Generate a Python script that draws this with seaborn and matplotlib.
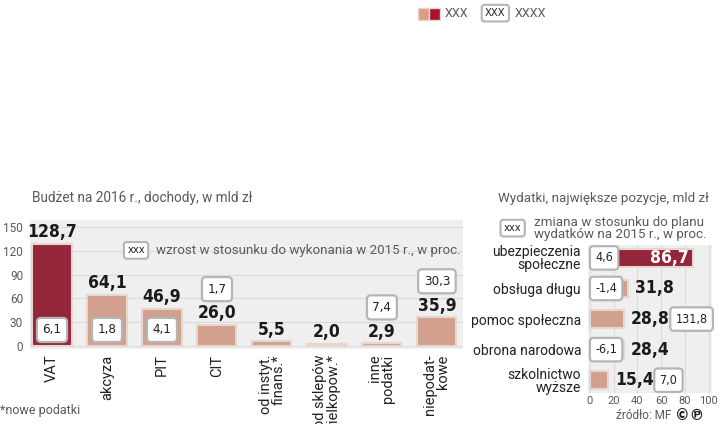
import matplotlib
matplotlib.use("Agg")
import matplotlib.pyplot as plt
import seaborn as sns
import pandas as pd
from matplotlib.patches import Rectangle

# dane - dochody
doch_kat = ["VAT", "akcyza", "PIT", "CIT", "od instyt.\nfinans.*", "od sklepów\nwielkopow.*",
            "inne\npodatki", "niepodat-\nkowe"]
doch_mld = [128.7, 64.1, 46.9, 26.0, 5.5, 2.0, 2.9, 35.9]
doch_wzrost = ["6,1", "1,8", "4,1", "1,7", None, None, "7,4", "30,3"]
doch_box_w_slupku = [True, True, True, False, False, False, False, False]
doch_y_ticks = [0, 30, 60, 90, 120, 150]

# dane - wydatki
wyd_kat = ["ubezpieczenia\nspołeczne", "obsługa długu", "pomoc społeczna", "obrona narodowa",
           "szkolnictwo\nwyższe"]
wyd_mld = [86.7, 31.8, 28.8, 28.4, 15.4]
wyd_zmiana = ["4,6", "-1,4", "131,8", "-6,1", "7,0"]
wyd_box_w_slupku = [True, True, False, True, False]
wyd_x_ticks = [0, 20, 40, 60, 80, 100]

RED = "#a8122e"
SALMON = "#dc9b83"
BG = "#efefef"
GRAY = "#5a5a5a"
DARK = "#222222"

sns.set_style("white")
plt.rcParams["font.family"] = ["Roboto", "DejaVu Sans"]
# waski font do liczb
COND = dict(family="DejaVu Sans", fontstretch="condensed")

fig = plt.figure(figsize=(7.2, 4.24), dpi=100)

def fmt(v):
    return f"{v:.1f}".replace(".", ",")

box_style = dict(boxstyle="round,pad=0.42,rounding_size=0.3", fc="white", ec="#b5b5b5", lw=1.6)
box_small = dict(boxstyle="round,pad=0.3,rounding_size=0.25", fc="white", ec="#b5b5b5", lw=1.5)

# ---- lewy wykres: dochody
ax1 = fig.add_axes([0.0417, 0.177, 0.601, 0.304])
ax1.set_facecolor(BG)
df1 = pd.DataFrame({"kat": doch_kat, "mld": doch_mld})
pal1 = [RED] + [SALMON] * (len(doch_kat) - 1)
sns.barplot(data=df1, x="kat", y="mld", hue="kat", palette=pal1, legend=False, width=0.71,
            edgecolor="#e6d6d0", linewidth=1.5, ax=ax1, zorder=3)
ax1.set_xlim(-0.4, 7.47)
ax1.set_ylim(-4, 159)
ax1.set_yticks(doch_y_ticks)
ax1.set_yticklabels([str(t) for t in doch_y_ticks], color=GRAY, fontsize=8.5)
ax1.yaxis.grid(True, color="#dcdcdc", lw=0.8, zorder=0)
ax1.set_xlabel("")
ax1.set_ylabel("")
ax1.tick_params(length=0, pad=4)
ax1.tick_params(axis="y", pad=5)
ax1.set_xticks(range(len(doch_kat)))
ax1.set_xticklabels(doch_kat, rotation=90, fontsize=10.5, color=DARK, linespacing=0.9)
for lab in ax1.get_xticklabels():
    lab.set_multialignment("right")
for s in ax1.spines.values():
    s.set_visible(False)

for i, (v, w, inside) in enumerate(zip(doch_mld, doch_wzrost, doch_box_w_slupku)):
    ax1.annotate(fmt(v), (i, v), xytext=(0, 2), textcoords="offset points", ha="center",
                 va="bottom", fontsize=12.5, fontweight="bold", color="#1a1a1a", zorder=5, **COND)
    if w is None:
        continue
    if inside:
        ax1.text(i, 20, w, ha="center", va="center", fontsize=9.5, color=DARK,
                 bbox=box_style, zorder=6, **COND)
    else:
        ax1.annotate(w, (i, v), xytext=(0, 26), textcoords="offset points", ha="center",
                     va="center", fontsize=9.5, color=DARK, bbox=box_style, zorder=6, **COND)

ax1.text(0.245, 0.765, "xxx", transform=ax1.transAxes, ha="center", va="center", fontsize=8,
         color=DARK, bbox=box_small, zorder=6, **COND)
ax1.text(0.29, 0.765, "wzrost w stosunku do wykonania w 2015 r., w proc.", transform=ax1.transAxes,
         ha="left", va="center", fontsize=9.6, color=GRAY, zorder=6)

# ---- prawy wykres: wydatki
ax2 = fig.add_axes([0.8167, 0.073, 0.172, 0.349])
ax2.set_facecolor(BG)
df2 = pd.DataFrame({"kat": wyd_kat, "mld": wyd_mld})
pal2 = [RED] + [SALMON] * (len(wyd_kat) - 1)
sns.barplot(data=df2, y="kat", x="mld", hue="kat", palette=pal2, legend=False, width=0.58,
            orient="h", edgecolor="#e6d6d0", linewidth=1.5, ax=ax2, zorder=3)
ax2.set_xlim(-1.5, 102.5)
ax2.set_ylim(4.42, -0.42)
ax2.set_xticks(wyd_x_ticks)
ax2.set_xticklabels([str(t) for t in wyd_x_ticks], color=GRAY, fontsize=8)
ax2.xaxis.grid(True, color="#dcdcdc", lw=0.8, zorder=0)
ax2.set_xlabel("")
ax2.set_ylabel("")
ax2.tick_params(axis="x", length=0, pad=2)
ax2.tick_params(axis="y", length=0, pad=5)
ax2.set_yticks(range(len(wyd_kat)))
ax2.set_yticklabels(wyd_kat, fontsize=10, color=DARK, linespacing=0.9)
for s in ax2.spines.values():
    s.set_visible(False)

for i, (v, z, inside) in enumerate(zip(wyd_mld, wyd_zmiana, wyd_box_w_slupku)):
    if inside:
        ax2.text(4.5, i, z, ha="left", va="center", fontsize=9, color=DARK,
                 bbox=box_style, zorder=6, **COND)
    if i == 0:
        ax2.annotate(fmt(v), (v, i), xytext=(-3, 0), textcoords="offset points", ha="right",
                     va="center", fontsize=12.5, fontweight="bold", color="white", zorder=5, **COND)
    else:
        ax2.annotate(fmt(v), (v, i), xytext=(5, 0), textcoords="offset points", ha="left",
                     va="center", fontsize=12.5, fontweight="bold", color="#1a1a1a", zorder=5, **COND)
    if not inside:
        ax2.annotate(z, (v, i), xytext=(37, 0), textcoords="offset points", ha="left",
                     va="center", fontsize=9, color=DARK, bbox=box_style, zorder=6, **COND)

# ---- tytuły i opisy
fig.text(0.044, 0.533, "Budżet na 2016 r., dochody, w mld zł", fontsize=9.8, color=GRAY,
         va="center")
fig.text(0.985, 0.533, "Wydatki, największe pozycje, mld zł", fontsize=9.6, color=GRAY,
         va="center", ha="right")
fig.text(0.712, 0.462, "xxx", fontsize=8, color=DARK, ha="center", va="center",
         bbox=box_small, **COND)
fig.text(0.741, 0.462, "zmiana w stosunku do planu\nwydatków na 2015 r., w proc.", fontsize=9.6,
         color=GRAY, ha="left", va="center", linespacing=0.9)
fig.text(0.0, 0.031, "*nowe podatki", fontsize=9, color=GRAY, va="center")
fig.text(0.933, 0.02, "źródło: MF", fontsize=8.5, color=GRAY, va="center", ha="right")
fig.text(0.937, 0.02, "©℗", fontsize=10.5, fontweight="bold", family="DejaVu Sans",
         color=DARK, va="center", ha="left")

# ---- legenda u góry
fig.patches.append(Rectangle((0.581, 0.953), 0.015, 0.028, transform=fig.transFigure,
                             fc=SALMON, ec="#e6d6d0", lw=1))
fig.patches.append(Rectangle((0.596, 0.953), 0.015, 0.028, transform=fig.transFigure,
                             fc=RED, ec="#e6d6d0", lw=1))
fig.text(0.617, 0.967, "XXX", fontsize=9, color=GRAY, va="center")
fig.text(0.688, 0.969, "XXX", fontsize=8, color=DARK, ha="center", va="center",
         bbox=box_small, **COND)
fig.text(0.715, 0.967, "XXXX", fontsize=9, color=GRAY, va="center")

fig.savefig("out.png", dpi=100)
